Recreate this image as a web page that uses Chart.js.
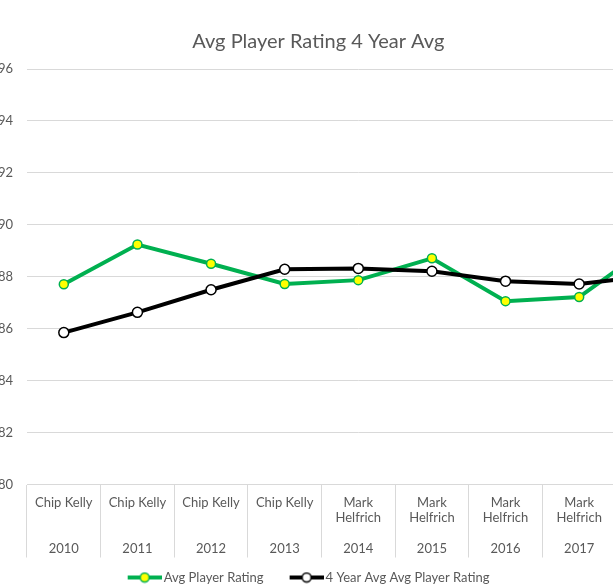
<!DOCTYPE html>
<html>
<head>
<meta charset="utf-8">
<script src="https://cdn.jsdelivr.net/npm/chart.js@4.4.0/dist/chart.umd.min.js"></script>
<style>
  html, body { margin: 0; padding: 0; background: #fff; overflow: hidden; }
  body { width: 613px; height: 587px; position: relative; }
  #wrap { position: absolute; left: -53px; top: 0; width: 753px; height: 594px; }
</style>
</head>
<body>
<div id="wrap"><canvas id="chart"></canvas></div>
<script>
  // Data (2018 is past the right edge, estimated from the slope)
  const years = ['2010', '2011', '2012', '2013', '2014', '2015', '2016', '2017', '2018'];
  const coaches = [['Chip Kelly'], ['Chip Kelly'], ['Chip Kelly'], ['Chip Kelly'],
    ['Mark', 'Helfrich'], ['Mark', 'Helfrich'], ['Mark', 'Helfrich'], ['Mark', 'Helfrich'], ['']];
  const avgRating = [87.71, 89.24, 88.50, 87.72, 87.87, 88.71, 87.06, 87.22, 89.26];
  const fourYearAvg = [85.85, 86.63, 87.50, 88.29, 88.32, 88.21, 87.83, 87.72, 88.05];
  const yTicks = [80, 82, 84, 86, 88, 90, 92, 94, 96];

  const textColor = '#595959';
  const gridColor = '#d9d9d9';
  const font = 'Lato';

  // two-level labels: coach name on top, year at the bottom of the box
  const labels = years.map((y, i) => [coaches[i][0], coaches[i][1] || '', '', y]);

  // legend swatch: line with a marker in the middle (blank space on the left = gap between items)
  function swatch(lineColor, fill) {
    const c = document.createElement('canvas');
    c.width = 51; c.height = 12;
    const g = c.getContext('2d');
    g.strokeStyle = lineColor;
    g.lineWidth = 4;
    g.beginPath(); g.moveTo(17, 6); g.lineTo(51, 6); g.stroke();
    g.beginPath(); g.arc(34, 6, 4.5, 0, Math.PI * 2);
    g.fillStyle = fill; g.fill();
    g.lineWidth = 1.5; g.stroke();
    return c;
  }
  const swatches = [swatch('#00b050', '#ffff00'), swatch('#000000', '#ffffff')];

  // nudge the legend left, like the original
  const legendShift = {
    id: 'legendShift',
    afterLayout(chart) {
      chart.legend.left -= 16;
      chart.legend.right -= 16;
    }
  };

  new Chart(document.getElementById('chart'), {
    type: 'line',
    data: {
      labels,
      datasets: [{
        label: 'Avg Player Rating',
        data: avgRating,
        borderColor: '#00b050',
        borderWidth: 4,
        pointBackgroundColor: '#ffff00',
        pointBorderColor: '#00b050',
        pointBorderWidth: 1.5,
        pointRadius: 4.5,
        tension: 0,
        order: 1
      }, {
        label: '4 Year Avg Avg Player Rating',
        data: fourYearAvg,
        borderColor: '#000000',
        borderWidth: 4,
        pointBackgroundColor: '#ffffff',
        pointBorderColor: '#000000',
        pointBorderWidth: 1.5,
        pointRadius: 5,
        tension: 0,
        order: 0
      }]
    },
    plugins: [legendShift],
    options: {
      responsive: true,
      maintainAspectRatio: false,
      animation: false,
      layout: { padding: { left: 0, right: 10.4, top: 0, bottom: 0 } },
      plugins: {
        title: {
          display: true,
          text: 'Avg Player Rating 4 Year Avg',
          color: textColor,
          font: { family: font, size: 20, weight: 'normal' },
          padding: { top: 30, bottom: 15 }
        },
        legend: {
          position: 'bottom',
          labels: {
            color: textColor,
            font: { family: font, size: 13 },
            usePointStyle: true,
            pointStyleWidth: 42,
            padding: 13.5,
            sort: (a, b) => a.datasetIndex - b.datasetIndex,
            generateLabels: chart => chart.data.datasets.map((ds, i) => ({
              text: ds.label,
              pointStyle: swatches[i],
              datasetIndex: i,
              fontColor: textColor,
              lineWidth: 0,
              strokeStyle: 'transparent',
              fillStyle: 'transparent'
            }))
          }
        },
        tooltip: { enabled: false }
      },
      scales: {
        x: {
          offset: true,
          afterFit: s => { s.height = 73; },
          grid: {
            offset: true,
            drawOnChartArea: false,
            drawTicks: true,
            tickLength: 73,
            color: gridColor
          },
          border: { display: true, color: gridColor },
          ticks: {
            color: textColor,
            font: { family: font, size: 13, lineHeight: 1.18 },
            padding: -62.2,
            maxRotation: 0,
            autoSkip: false
          }
        },
        y: {
          min: 80,
          max: 96,
          afterBuildTicks: s => { s.ticks = yTicks.map(v => ({ value: v })); },
          afterFit: s => { s.width = 80; },
          grid: { color: gridColor, drawTicks: false },
          border: { display: false },
          ticks: {
            color: textColor,
            font: { family: font, size: 13 },
            padding: 14
          }
        }
      }
    }
  });
</script>
</body>
</html>
